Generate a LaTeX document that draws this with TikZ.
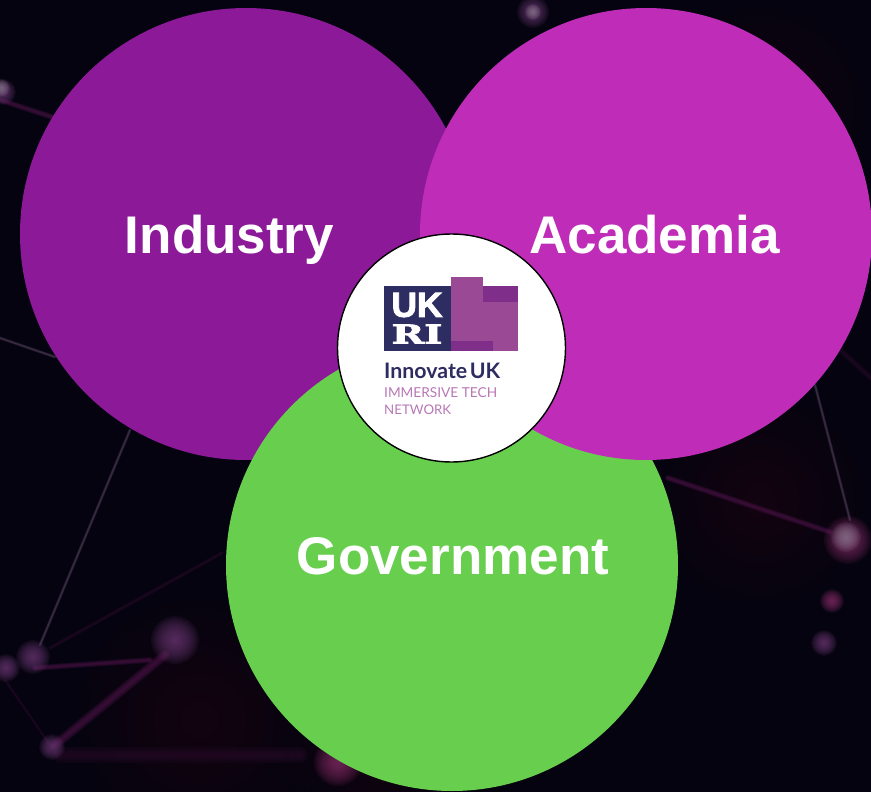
\documentclass[tikz,border=0pt]{standalone}
\usepackage{fontspec}
\usepackage{graphicx}
\setmainfont{Liberation Sans}
\newfontfamily\logofont{Lato}
\newfontfamily\ukfont[FakeBold=2.5]{Liberation Sans Bold}
\newfontfamily\slabfont[FakeBold=2]{DejaVu Serif Bold}
\definecolor{bgdark}{HTML}{04030F}
\definecolor{indcol}{HTML}{8C1A98}
\definecolor{acacol}{HTML}{BE2CB8}
\definecolor{govcol}{HTML}{68CE4E}
\definecolor{navy}{HTML}{2E2D62}
\definecolor{plum}{HTML}{9A4A94}
\definecolor{plumdark}{HTML}{7F2F8A}
\definecolor{tagcol}{HTML}{B878B6}
\definecolor{ballcol}{HTML}{6E3A76}
\definecolor{ballred}{HTML}{8A2F6A}
\definecolor{balllight}{HTML}{8A7A90}
\definecolor{linecol}{HTML}{4E3C56}
\definecolor{linered}{HTML}{481244}
\definecolor{linefaint}{HTML}{240A26}
\definecolor{glow}{HTML}{2A0628}
\newcommand{\softball}[4][ballcol]{%
  \foreach \k in {1,...,12}{\fill[#1,opacity=.11] (#2,#3) circle[radius=#4*\k/12];}}
\newcommand{\softglow}[3]{%
  \foreach \k in {1,...,14}{\fill[glow,opacity=.04] (#1,#2) circle[radius=#3*\k/14];}}
\newcommand{\softline}[4][linecol]{%
  \foreach \k in {1,...,6}{\draw[#1,opacity=.2,line width=#4*\k/3,line cap=round] (#2) -- (#3);}}
\tikzset{
  bigcircle/.style={circle,minimum size=452pt,inner sep=0pt,outer sep=0pt},
  bigword/.style={text=white,font=\fontsize{53}{60}\selectfont\bfseries,inner sep=0pt,anchor=base},
  hub/.style={circle,fill=white,draw=black,line width=1.4pt,minimum size=228pt,inner sep=0pt,outer sep=0pt},
  logotext/.style={anchor=west,inner sep=0pt},
}
\begin{document}
\begin{tikzpicture}[x=1pt,y=-1pt]
\useasboundingbox (0,0) rectangle (871,792);
\fill[bgdark] (0,0) rectangle (871,792);
% background network
\begin{scope}
\clip (0,0) rectangle (871,792);
\softglow{760}{110}{110}
\softglow{760}{500}{110}
\softglow{200}{720}{130}
\softglow{380}{750}{90}
\softline{0,338}{55,357}{1.5}
\softline{130,430}{40,645}{1.5}
\softline[linefaint]{50,648}{222,553}{2}
\softline[linered]{35,668}{150,660}{3}
\softline[linered]{55,745}{165,655}{5}
\softline[linefaint]{60,755}{300,755}{8}
\softline[linefaint]{5,680}{50,745}{1.5}
\softline[linered]{0,100}{55,118}{3}
\softline{815,385}{850,520}{1.5}
\softline[linered]{668,478}{830,532}{3}
\softline[linefaint]{840,350}{871,378}{3}
\softball{175}{640}{24}
\softball{33}{657}{17}
\softball{6}{668}{14}
\softball{52}{747}{13}
\softball[ballred]{338}{762}{24}
\softball{533}{12}{16}
\softball[balllight]{533}{12}{8}
\softball{3}{92}{13}
\softball[balllight]{1}{88}{9}
\softball[ballred]{848}{540}{24}
\softball[balllight]{846}{537}{15}
\softball[ballred]{832}{601}{12}
\softball{824}{643}{13}
\end{scope}
% main circles
\node[bigcircle,fill=indcol] (industry) at (246,234) {};
\node[bigcircle,fill=govcol] (government) at (452,565) {};
\node[bigcircle,fill=acacol] (academia) at (646,234) {};
\node[bigword] (industrylabel) at (229.5,253) {Industry};
\node[bigword] (academialabel) at (654.5,253) {Academia};
\node[bigword] (governmentlabel) at (453,574) {Government};
% hub with logo
\node[hub] (hubcircle) at (451.5,348) {};
\fill[navy] (384,286) rectangle (450.5,351);
\fill[plum] (450.5,277) rectangle (483,351);
\fill[plum] (483,286) rectangle (518,351);
\fill[plumdark] (483,286) rectangle (518,302);
\fill[plumdark] (450.5,341) rectangle (493,351);
\node[inner sep=0pt,text=white] (uk) at (417,305) {\resizebox{51pt}{24pt}{\ukfont UK}};
\node[inner sep=0pt,text=white] (ri) at (417,334) {\resizebox{51pt}{19pt}{\slabfont RI}};
\node[logotext,text=navy] (innovate) at (384,371) {\resizebox{116pt}{!}{\logofont\bfseries Innovate\kern.12em UK}};
\node[logotext,text=tagcol] (tagone) at (384,393) {\resizebox{113pt}{!}{\logofont IMMERSIVE TECH}};
\node[logotext,text=tagcol] (tagtwo) at (384,409.5) {\resizebox{67pt}{!}{\logofont NETWORK}};
\end{tikzpicture}
\end{document}
